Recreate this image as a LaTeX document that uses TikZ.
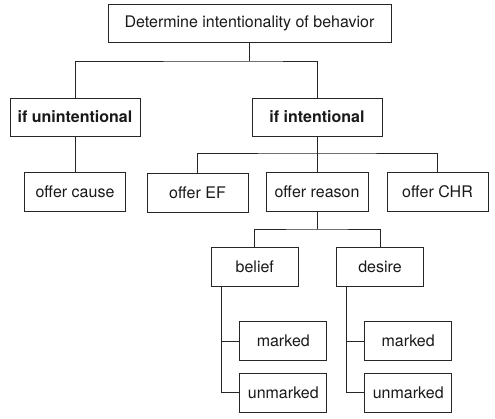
\documentclass[tikz,border=0pt]{standalone}
\usepackage{fontspec}
\setmainfont{TeX Gyre Heros}
\begin{document}
\begin{tikzpicture}[x=1pt,y=-1pt,
  box/.style={draw=black!85,line width=0.95pt,rectangle,inner sep=0pt,
    minimum width=#1,minimum height=39pt,font=\fontsize{16}{19}\selectfont,text=black!90},
  box/.default=101pt,
  conn/.style={draw=black!85,line width=0.95pt}]
\useasboundingbox (0,0) rectangle (495,419);
\node[box=283pt,minimum height=38pt] (top) at (249.5,23) {Determine intentionality of behavior};
\node[box=130pt,minimum height=38pt,font=\fontsize{16}{19}\selectfont\bfseries] (unint) at (75,117) {if unintentional};
\node[box=130pt,minimum height=38pt,font=\fontsize{16}{19}\selectfont\bfseries] (int) at (317,117) {if intentional};
\node[box] (cause) at (75,191.5) {offer cause};
\node[box] (ef) at (197.5,192.5) {offer EF};
\node[box=102pt] (reason) at (317,191.5) {offer reason};
\node[box] (chr) at (437.5,191.5) {offer CHR};
\node[box=87pt] (belief) at (254.8,266.7) {belief};
\node[box=87pt] (desire) at (380,266.7) {desire};
\node[box=87pt] (mk1) at (283.3,341.2) {marked};
\node[box=87pt] (um1) at (283.3,392.8) {unmarked};
\node[box=87pt] (mk2) at (408.2,341.2) {marked};
\node[box=87pt] (um2) at (408.2,392.8) {unmarked};
\coordinate (j1) at (249.5,61);
\coordinate (j2) at (317,153);
\coordinate (j3) at (317,229);
\coordinate (b1) at ([xshift=10.5pt]belief.south west);
\coordinate (d1) at ([xshift=10pt]desire.south west);
\path[conn] (top.south) -- (j1);
\path[conn] (unint.north) |- (j1) -| (int.north);
\path[conn] (unint.south) -- (cause.north);
\path[conn] (int.south) -- (reason.north);
\path[conn] (ef.north) |- (j2) -| (chr.north);
\path[conn] (reason.south) -- (j3);
\path[conn] (belief.north) |- (j3) -| (desire.north);
\path[conn] (b1) |- (um1.west);
\path[conn] (mk1.west) -- (mk1.west -| b1);
\path[conn] (d1) |- (um2.west);
\path[conn] (mk2.west) -- (mk2.west -| d1);
\end{tikzpicture}
\end{document}
